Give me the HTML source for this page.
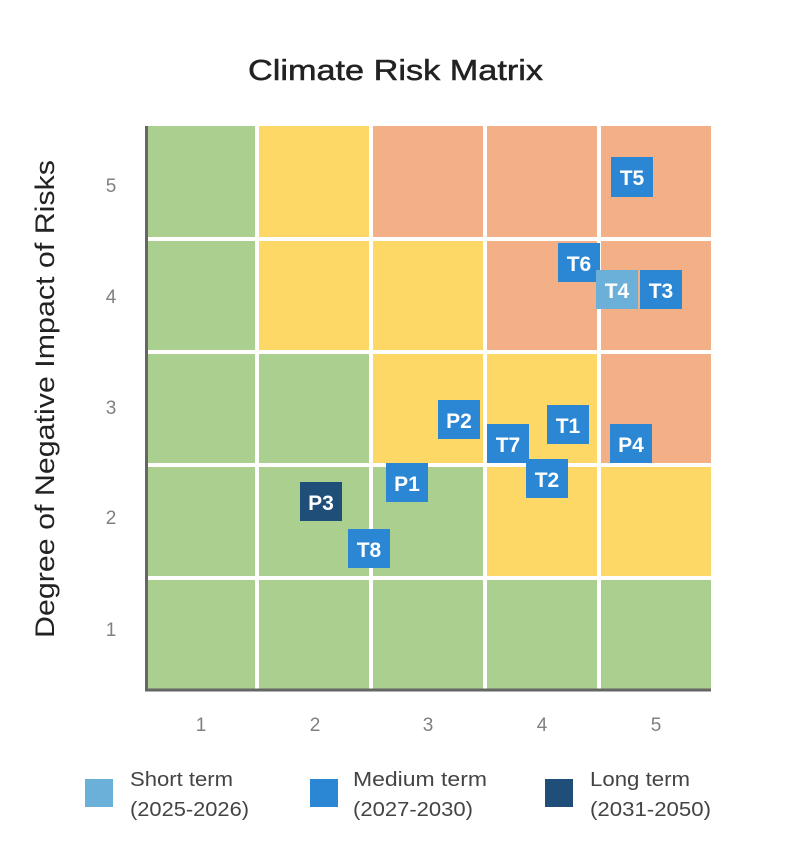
<!DOCTYPE html>
<html><head><style>
body{margin:0;background:#fff;width:791px;height:861px;overflow:hidden;font-family:"Liberation Sans",sans-serif}
</style></head><body>
<svg width="791" height="861" xmlns="http://www.w3.org/2000/svg" font-family="Liberation Sans, sans-serif">
<text x="248" y="80" font-size="29" fill="#222" stroke="#222" stroke-width="0.5" textLength="295" lengthAdjust="spacingAndGlyphs">Climate Risk Matrix</text>
<g>
<rect x="146" y="126" width="111" height="113" fill="#abcf8f"/>
<rect x="257" y="126" width="114" height="113" fill="#fdd866"/>
<rect x="371" y="126" width="340" height="113" fill="#f3af85"/>
<rect x="146" y="239" width="111" height="113" fill="#abcf8f"/>
<rect x="257" y="239" width="228" height="113" fill="#fdd866"/>
<rect x="485" y="239" width="226" height="113" fill="#f3af85"/>
<rect x="146" y="352" width="225" height="113" fill="#abcf8f"/>
<rect x="371" y="352" width="228" height="113" fill="#fdd866"/>
<rect x="599" y="352" width="112" height="113" fill="#f3af85"/>
<rect x="146" y="465" width="339" height="113" fill="#abcf8f"/>
<rect x="485" y="465" width="226" height="113" fill="#fdd866"/>
<rect x="146" y="578" width="565" height="112" fill="#abcf8f"/>
</g>
<g stroke="#fff" stroke-width="4">
<line x1="257" y1="126" x2="257" y2="690"/>
<line x1="371" y1="126" x2="371" y2="690"/>
<line x1="485" y1="126" x2="485" y2="690"/>
<line x1="599" y1="126" x2="599" y2="690"/>
<line x1="146" y1="239" x2="711" y2="239"/>
<line x1="146" y1="352" x2="711" y2="352"/>
<line x1="146" y1="465" x2="711" y2="465"/>
<line x1="146" y1="578" x2="711" y2="578"/>
</g>
<path d="M146.5 126 V690 H711" fill="none" stroke="#666" stroke-width="3"/>
<g font-size="19" fill="#808080" text-anchor="middle">
<text x="111" y="192">5</text><text x="111" y="303">4</text><text x="111" y="414">3</text><text x="111" y="524">2</text><text x="111" y="636">1</text>
<text x="201" y="731">1</text><text x="315" y="731">2</text><text x="428" y="731">3</text><text x="542" y="731">4</text><text x="656" y="731">5</text>
</g>
<text transform="translate(54,638) rotate(-90)" font-size="27" fill="#222" textLength="478" lengthAdjust="spacingAndGlyphs">Degree of Negative Impact of Risks</text>
<g font-size="21" font-weight="bold" fill="#fff" text-anchor="middle">
<rect x="611" y="157" width="42" height="40" fill="#2b87d3"/><text x="632" y="185">T5</text>
<rect x="558" y="243" width="42" height="39" fill="#2b87d3"/><text x="579" y="271">T6</text>
<rect x="596" y="270" width="42" height="39" fill="#6ab0d8"/><text x="617" y="298">T4</text>
<rect x="640" y="270" width="42" height="39" fill="#2b87d3"/><text x="661" y="298">T3</text>
<rect x="547" y="405" width="42" height="39" fill="#2b87d3"/><text x="568" y="433">T1</text>
<rect x="610" y="424" width="42" height="39" fill="#2b87d3"/><text x="631" y="452">P4</text>
<rect x="487" y="424" width="42" height="39" fill="#2b87d3"/><text x="508" y="452">T7</text>
<rect x="526" y="459" width="42" height="39" fill="#2b87d3"/><text x="547" y="487">T2</text>
<rect x="438" y="400" width="42" height="39" fill="#2b87d3"/><text x="459" y="428">P2</text>
<rect x="386" y="463" width="42" height="39" fill="#2b87d3"/><text x="407" y="491">P1</text>
<rect x="300" y="482" width="42" height="39" fill="#1f4e79"/><text x="321" y="510">P3</text>
<rect x="348" y="529" width="42" height="39" fill="#2b87d3"/><text x="369" y="557">T8</text>
</g>
<g font-size="20" fill="#444" lengthAdjust="spacingAndGlyphs">
<rect x="85" y="779" width="28" height="28" fill="#6ab0d8"/>
<text x="130" y="786" textLength="103" lengthAdjust="spacingAndGlyphs">Short term</text><text x="130" y="816" textLength="119" lengthAdjust="spacingAndGlyphs">(2025-2026)</text>
<rect x="310" y="779" width="28" height="28" fill="#2b87d3"/>
<text x="353" y="786" textLength="134" lengthAdjust="spacingAndGlyphs">Medium term</text><text x="353" y="816" textLength="120" lengthAdjust="spacingAndGlyphs">(2027-2030)</text>
<rect x="545" y="779" width="28" height="28" fill="#1f4e79"/>
<text x="590" y="786" textLength="100" lengthAdjust="spacingAndGlyphs">Long term</text><text x="590" y="816" textLength="121" lengthAdjust="spacingAndGlyphs">(2031-2050)</text>
</g>
</svg>
</body></html>
